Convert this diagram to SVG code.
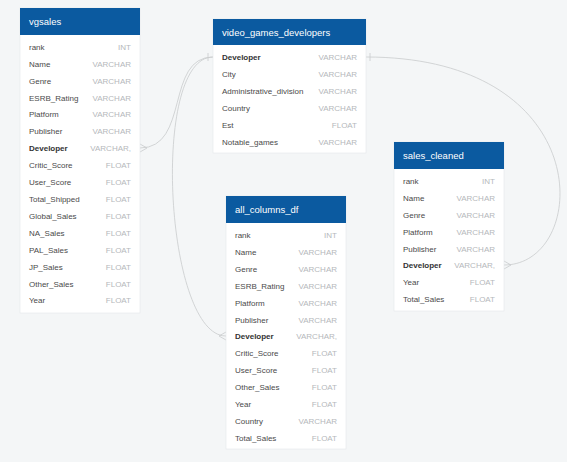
<svg xmlns="http://www.w3.org/2000/svg" width="567" height="462" viewBox="0 0 567 462">
<style>
.bg{fill:#f4f6f7}
.box{fill:#ffffff;stroke:#e4e7ea;stroke-width:0.6}
.hd{fill:#0b5aa0}
.ht{font-family:"Liberation Sans",Arial,sans-serif;font-size:9.5px;fill:#ffffff}
.n{font-family:"Liberation Sans",Arial,sans-serif;font-size:8px;fill:#4a4a4a}
.k{font-family:"Liberation Sans",Arial,sans-serif;font-size:8px;fill:#333333;font-weight:bold}
.t{font-family:"Liberation Sans",Arial,sans-serif;font-size:8px;fill:#b5b8bb;text-anchor:end}
.c{fill:none;stroke:#c9cbcd;stroke-width:0.8}
</style>
<rect class="bg" x="0" y="0" width="567" height="462"/>
<g id="connectors">
<path class="c" d="M140,148 C190,148 165,57 213,57"/>
<path class="c" d="M140,144 L147,148 L140,152"/>
<path class="c" d="M208,53 L208,61"/>
<path class="c" d="M213,57 C150,57 165,336 226,336"/>
<path class="c" d="M226,332 L219,336 L226,340"/>
<path class="c" d="M366,57 C600,57 590,265 504,265"/>
<path class="c" d="M370,53 L370,61"/>
<path class="c" d="M504,261 L511,265 L504,269"/>
</g>
<g id="vgsales">
<rect class="box" x="20" y="8" width="120" height="305"/>
<rect class="hd" x="20" y="8" width="120" height="27"/>
<text class="ht" x="29" y="25">vgsales</text>
<text class="n" x="29" y="50">rank</text><text class="t" x="131" y="50">INT</text>
<text class="n" x="29" y="67">Name</text><text class="t" x="131" y="67">VARCHAR</text>
<text class="n" x="29" y="84">Genre</text><text class="t" x="131" y="84">VARCHAR</text>
<text class="n" x="29" y="101">ESRB_Rating</text><text class="t" x="131" y="101">VARCHAR</text>
<text class="n" x="29" y="117">Platform</text><text class="t" x="131" y="117">VARCHAR</text>
<text class="n" x="29" y="134">Publisher</text><text class="t" x="131" y="134">VARCHAR</text>
<text class="k" x="29" y="151">Developer</text><text class="t" x="131" y="151">VARCHAR,</text>
<text class="n" x="29" y="168">Critic_Score</text><text class="t" x="131" y="168">FLOAT</text>
<text class="n" x="29" y="185">User_Score</text><text class="t" x="131" y="185">FLOAT</text>
<text class="n" x="29" y="202">Total_Shipped</text><text class="t" x="131" y="202">FLOAT</text>
<text class="n" x="29" y="219">Global_Sales</text><text class="t" x="131" y="219">FLOAT</text>
<text class="n" x="29" y="236">NA_Sales</text><text class="t" x="131" y="236">FLOAT</text>
<text class="n" x="29" y="253">PAL_Sales</text><text class="t" x="131" y="253">FLOAT</text>
<text class="n" x="29" y="270">JP_Sales</text><text class="t" x="131" y="270">FLOAT</text>
<text class="n" x="29" y="287">Other_Sales</text><text class="t" x="131" y="287">FLOAT</text>
<text class="n" x="29" y="303">Year</text><text class="t" x="131" y="303">FLOAT</text>
</g>
<g id="video_games_developers">
<rect class="box" x="213" y="19" width="153" height="134"/>
<rect class="hd" x="213" y="19" width="153" height="26"/>
<text class="ht" x="222" y="35.5">video_games_developers</text>
<text class="k" x="222" y="60">Developer</text><text class="t" x="357" y="60">VARCHAR</text>
<text class="n" x="222" y="77">City</text><text class="t" x="357" y="77">VARCHAR</text>
<text class="n" x="222" y="94">Administrative_division</text><text class="t" x="357" y="94">VARCHAR</text>
<text class="n" x="222" y="111">Country</text><text class="t" x="357" y="111">VARCHAR</text>
<text class="n" x="222" y="128">Est</text><text class="t" x="357" y="128">FLOAT</text>
<text class="n" x="222" y="144.5">Notable_games</text><text class="t" x="357" y="144.5">VARCHAR</text>
</g>
<g id="sales_cleaned">
<rect class="box" x="394" y="142" width="110" height="169"/>
<rect class="hd" x="394" y="142" width="110" height="27"/>
<text class="ht" x="403" y="159">sales_cleaned</text>
<text class="n" x="403" y="184">rank</text><text class="t" x="495" y="184">INT</text>
<text class="n" x="403" y="201">Name</text><text class="t" x="495" y="201">VARCHAR</text>
<text class="n" x="403" y="217.5">Genre</text><text class="t" x="495" y="217.5">VARCHAR</text>
<text class="n" x="403" y="234.5">Platform</text><text class="t" x="495" y="234.5">VARCHAR</text>
<text class="n" x="403" y="251.5">Publisher</text><text class="t" x="495" y="251.5">VARCHAR</text>
<text class="k" x="403" y="268">Developer</text><text class="t" x="495" y="268">VARCHAR,</text>
<text class="n" x="403" y="285">Year</text><text class="t" x="495" y="285">FLOAT</text>
<text class="n" x="403" y="302">Total_Sales</text><text class="t" x="495" y="302">FLOAT</text>
</g>
<g id="all_columns_df">
<rect class="box" x="226" y="196" width="120" height="253"/>
<rect class="hd" x="226" y="196" width="120" height="27"/>
<text class="ht" x="235" y="213">all_columns_df</text>
<text class="n" x="235" y="238">rank</text><text class="t" x="337" y="238">INT</text>
<text class="n" x="235" y="255">Name</text><text class="t" x="337" y="255">VARCHAR</text>
<text class="n" x="235" y="272">Genre</text><text class="t" x="337" y="272">VARCHAR</text>
<text class="n" x="235" y="289">ESRB_Rating</text><text class="t" x="337" y="289">VARCHAR</text>
<text class="n" x="235" y="305.5">Platform</text><text class="t" x="337" y="305.5">VARCHAR</text>
<text class="n" x="235" y="322.5">Publisher</text><text class="t" x="337" y="322.5">VARCHAR</text>
<text class="k" x="235" y="339">Developer</text><text class="t" x="337" y="339">VARCHAR,</text>
<text class="n" x="235" y="356">Critic_Score</text><text class="t" x="337" y="356">FLOAT</text>
<text class="n" x="235" y="373">User_Score</text><text class="t" x="337" y="373">FLOAT</text>
<text class="n" x="235" y="390">Other_Sales</text><text class="t" x="337" y="390">FLOAT</text>
<text class="n" x="235" y="407">Year</text><text class="t" x="337" y="407">FLOAT</text>
<text class="n" x="235" y="423.5">Country</text><text class="t" x="337" y="423.5">VARCHAR</text>
<text class="n" x="235" y="440.5">Total_Sales</text><text class="t" x="337" y="440.5">FLOAT</text>
</g>
</svg>
